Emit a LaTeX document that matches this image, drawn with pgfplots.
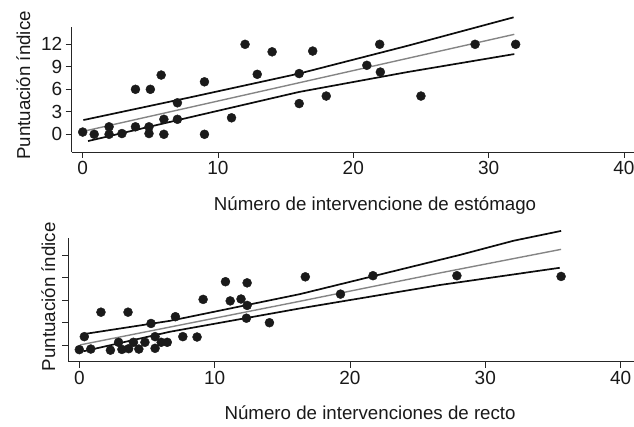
\documentclass[border=0pt]{standalone}
\usepackage{fontspec}
\setmainfont{Liberation Sans}
\usepackage{pgfplots}
\pgfplotsset{compat=1.18}
\definecolor{dotc}{HTML}{1A1A1A}
\definecolor{midgray}{HTML}{858585}
\pgfplotsset{
  common/.style={
    scale only axis,
    anchor=south west,
    axis lines=left,
    axis line style={-, line width=0.8pt, black!85},
    tick style={line width=0.8pt, black!85},
    tick align=outside,
    major tick length=6pt,
    xtick={0,10,20,30,40},
    /pgf/number format/assume math mode=true,
    tick label style={font=\fontsize{19}{22}\selectfont, text=black!90},
    label style={font=\fontsize{18.7}{22}\selectfont, text=black!90},
    clip=false,
  },
  dots/.style={only marks, mark=*, mark size=4.5pt, mark options={fill=dotc, draw=dotc}},
  band/.style={black!95, line width=1.7pt, no marks},
  fit/.style={midgray, line width=1.4pt, no marks},
}
\begin{document}
\begin{tikzpicture}[x=1pt,y=1pt]
\path[use as bounding box] (0,0) rectangle (634,427);
% ---------------- top panel ----------------
\begin{axis}[common,
  at={(71.7pt,275pt)}, width=561.8pt, height=125.3pt,
  xmin=-0.813, xmax=40.71, ymin=-2.36, ymax=14.35,
  ytick={0,3,6,9,12},
  xlabel={Número de intervencione de estómago},
  ylabel={Puntuación índice},
  x label style={at={(axis description cs:0.54,-0.463)}, anchor=base},
  y label style={at={(axis description cs:-0.0742,0.531)}, anchor=base, rotate=0},
]
\addplot[band] coordinates {(0.05,1.9) (8,4.95) (16,8.1) (24,11.8) (31.85,15.6)};
\addplot[band] coordinates {(0.4,-0.9) (8,2.3) (16,5.65) (24,8.3) (31.9,10.7)};
\addplot[fit] coordinates {(0.25,0.48) (31.9,13.33)};
\addplot[dots] coordinates {
(0,0.3) (0.85,0) (1.95,1) (1.95,0) (2.9,0.1) (3.9,6) (3.9,1) (5,6) (4.9,1) (4.9,0.1)
(5.8,7.9) (6,2) (6,0) (7,4.2) (7,2) (9,7) (9,0) (11,2.2) (12,12) (12.9,8)
(14,11) (16,8.1) (16,4.1) (17,11.1) (18,5.1) (21,9.2) (21.95,12) (22,8.3) (25,5.1) (29,12) (32,12)
};
\end{axis}
% ---------------- bottom panel ----------------
\begin{axis}[common,
  at={(68.3pt,65.3pt)}, width=565.2pt, height=124pt,
  xmin=-0.813, xmax=40.95, ymin=-2.18, ymax=14.3,
  ytick={0,3,6,9,12}, yticklabels={},
  xlabel={Número de intervenciones de recto},
  ylabel={Puntuación índice},
  x label style={at={(axis description cs:0.534,-0.47)}, anchor=base},
  y label style={at={(axis description cs:-0.0235,0.524)}, anchor=base, rotate=0},
]
\addplot[band] coordinates {(0.37,1.5) (6.7,3.25) (16.3,6.8) (28.1,12.0) (32.1,13.9) (35.6,15.2)};
\addplot[band] coordinates {(0.3,-0.8) (6.7,1.8) (16.3,4.9) (26.6,8.0) (35.5,10.3)};
\addplot[fit] coordinates {(0.05,0.05) (16.3,5.85) (26.6,9.6) (35.6,12.75)};
\addplot[dots] coordinates {
(0,-0.58) (0.37,1.15) (0.85,-0.5) (1.6,4.4) (2.3,-0.65) (2.9,0.4) (3.15,-0.55) (3.6,4.4)
(3.65,-0.45) (4.0,0.4) (4.4,-0.5) (4.85,0.4) (5.3,2.9) (5.6,1.15) (5.6,-0.4) (6.05,0.4)
(6.5,0.4) (7.1,3.8) (7.65,1.15) (8.7,1.1) (9.15,6.1) (10.8,8.45) (11.15,5.9) (11.95,6.15)
(12.4,8.3) (12.4,5.3) (12.35,3.6) (14.05,3.0) (16.7,9.1) (19.3,6.8) (21.7,9.25) (27.9,9.25) (35.6,9.15)
};
\end{axis}
\end{tikzpicture}
\end{document}
